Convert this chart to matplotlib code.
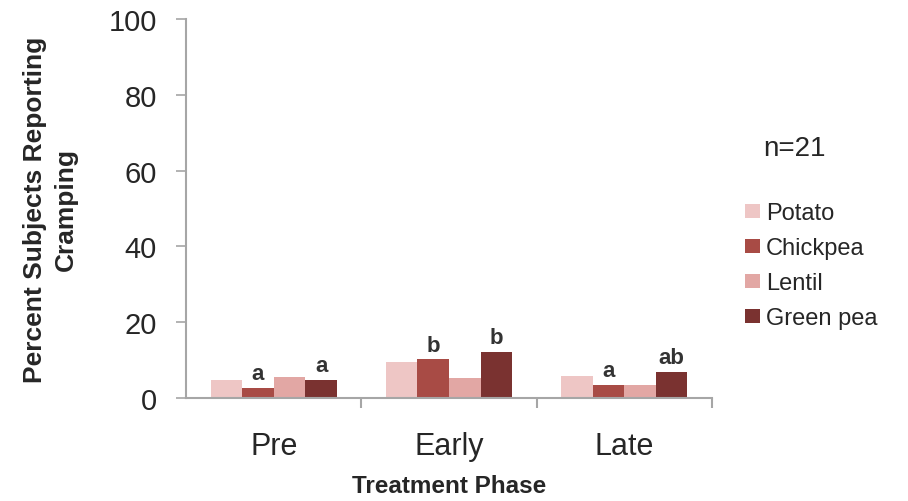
import numpy as np
import matplotlib
matplotlib.use("Agg")
from matplotlib import pyplot as plt
from matplotlib.patches import Patch

plt.rcParams['font.family'] = ['Liberation Sans', 'DejaVu Sans']

phases = ['Pre', 'Early', 'Late']
foods = ['Potato', 'Chickpea', 'Lentil', 'Green pea']
colors = ['#EEC6C5', '#A84B45', '#E2A7A4', '#7A3230']
potato = [4.8, 9.5, 5.7]
chickpea = [2.6, 10.2, 3.4]
lentil = [5.5, 5.3, 3.4]
green_pea = [4.9, 12.2, 7.0]
# significance letters per (food, phase)
letters = {
    'Chickpea': ['a', 'b', 'a'],
    'Green pea': ['a', 'b', 'ab'],
}

series = [potato, chickpea, lentil, green_pea]

fig = plt.figure(figsize=(9.08, 5.02), dpi=100)
ax = fig.add_axes([0.205, 0.205, 0.579, 0.755])

x = np.arange(len(phases))
w = 0.18
for i, (name, vals) in enumerate(zip(foods, series)):
    pos = x + (i - 1.5) * w
    ax.bar(pos, vals, width=w, color=colors[i], edgecolor='none', label=name)
    if name in letters:
        for p, v, t in zip(pos, vals, letters[name]):
            ax.text(p, v + 1.0, t, ha='center', va='bottom', fontsize=16,
                    fontweight='bold', color='#333333')

ax.set_xlim(-0.5, 2.5)
ax.set_ylim(0, 100)
ax.set_yticks(range(0, 101, 20))
ax.set_xticks(x)
ax.set_xticklabels(phases)
ax.set_xticks([0.5, 1.5, 2.5], minor=True)

for s in ['top', 'right']:
    ax.spines[s].set_visible(False)
for s in ['left', 'bottom']:
    ax.spines[s].set_color('#A6A6A6')
    ax.spines[s].set_linewidth(1.5)

ax.tick_params(axis='y', direction='out', length=7, width=1.2, color='#A6A6A6',
               labelsize=21, labelcolor='#262626', pad=14)
ax.tick_params(axis='x', which='major', length=0, labelsize=22,
               labelcolor='#262626', pad=24)
ax.tick_params(axis='x', which='minor', direction='out', length=7, width=1.5,
               color='#A6A6A6')

ax.set_ylabel('Percent Subjects Reporting\nCramping', fontsize=19,
              fontweight='bold', color='#262626', labelpad=22, linespacing=1.35)
ax.set_xlabel('Treatment Phase', fontsize=17.5, fontweight='bold',
              color='#262626', labelpad=9)

fig.text(0.841, 0.704, 'n=21', fontsize=20, color='#262626', va='center')

handles = [Patch(facecolor=c, edgecolor='none') for c in colors]
fig.legend(handles, foods, loc='upper left', bbox_to_anchor=(0.8205, 0.595),
           frameon=False, fontsize=17, handlelength=0.64, handleheight=0.55,
           handletextpad=0.25, labelspacing=0.55, labelcolor='#262626',
           borderaxespad=0, borderpad=0)

fig.savefig('out.png', dpi=100)
